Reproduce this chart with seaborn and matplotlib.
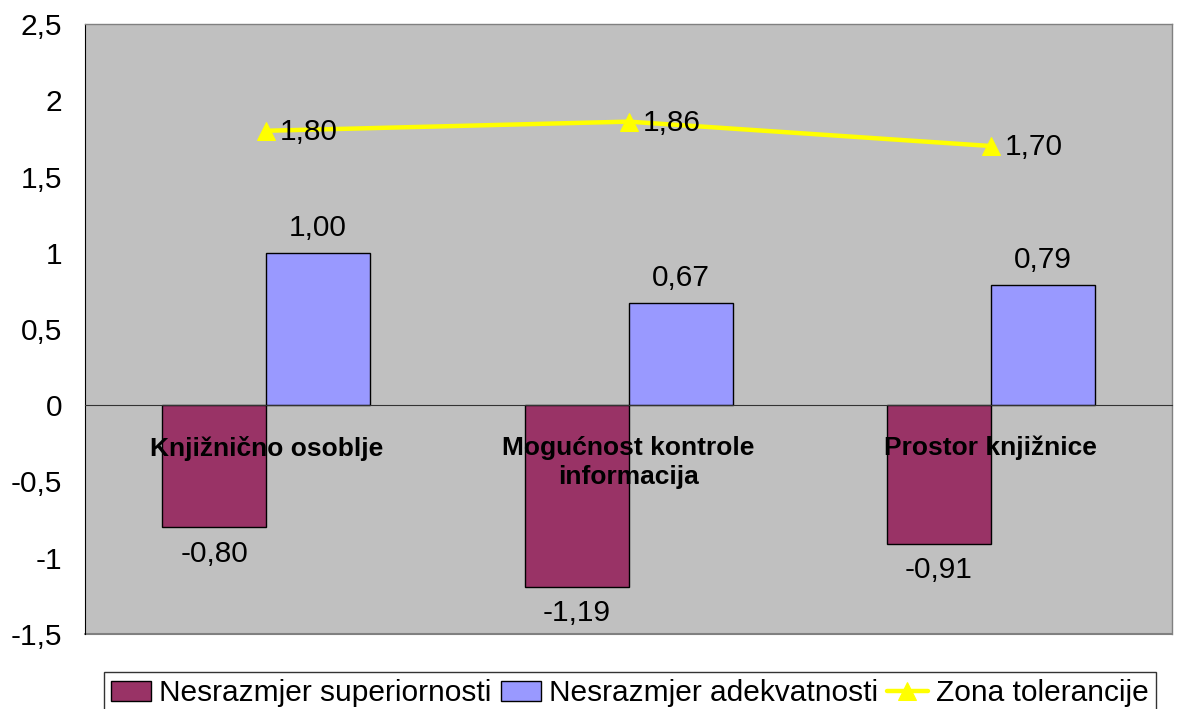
import matplotlib
matplotlib.use("Agg")
import matplotlib.pyplot as plt
import seaborn as sns
import pandas as pd

categories = ["Knjižnično osoblje", "Mogućnost kontrole\ninformacija", "Prostor knjižnice"]
superiornost = [-0.80, -1.19, -0.91]
adekvatnost = [1.00, 0.67, 0.79]
zona = [1.80, 1.86, 1.70]
series_names = ["Nesrazmjer superiornosti", "Nesrazmjer adekvatnosti", "Zona tolerancije"]
yticks = [-1.5, -1, -0.5, 0, 0.5, 1, 1.5, 2, 2.5]

def fmt(v):
    return f"{v:.2f}".replace(".", ",")

sns.set_style("white", {"text.color": "black", "ytick.color": "black",
                        "xtick.color": "black", "axes.labelcolor": "black"})
plt.rcParams["font.family"] = ["Liberation Sans", "DejaVu Sans"]

df = pd.DataFrame({
    "cat": categories * 2,
    "val": superiornost + adekvatnost,
    "serija": [series_names[0]] * 3 + [series_names[1]] * 3,
})

fig = plt.figure(figsize=(11.77, 7.09), dpi=100)
ax = fig.add_axes([0.0722, 0.1058, 0.9236, 0.8603])
ax.set_facecolor("#C0C0C0")

sns.barplot(data=df, x="cat", y="val", hue="serija", hue_order=series_names[:2],
            palette=["#993366", "#9999FF"], width=0.574, edgecolor="black",
            linewidth=1, ax=ax, errorbar=None, saturation=1)
sns.lineplot(x=[0, 1, 2], y=zona, color="#FFFF00", linewidth=3.2, marker="^",
             markersize=13, markeredgecolor="#FFFF00", ax=ax, label=series_names[2])

ax.set_xlim(-0.5, 2.5)
ax.set_ylim(-1.5, 2.5)
ax.set_yticks(yticks)
ax.set_yticklabels([f"{t:g}".replace(".", ",") for t in yticks], fontsize=21.5,
                   color="black")
ax.set_xticks([-0.5, 0.5, 1.5, 2.5])
ax.set_xticklabels([])
ax.set_xlabel("")
ax.set_ylabel("")
ax.tick_params(axis="y", direction="inout", length=13, width=1, color="black", pad=10)
ax.tick_params(axis="x", direction="inout", length=12, width=1, color="#333333")

for s in ["top", "right"]:
    ax.spines[s].set_color("#808080")
    ax.spines[s].set_linewidth(1)
ax.spines["left"].set_color("black")
ax.spines["bottom"].set_position(("data", 0))
ax.spines["bottom"].set_color("#333333")
ax.axhline(-1.5, color="#808080", linewidth=1.5, clip_on=False)

# value labels
for i, v in enumerate(adekvatnost):
    ax.annotate(fmt(v), (i + 0.1435, v), xytext=(0, 18), textcoords="offset points",
                ha="center", va="center", fontsize=21.5, color="black")
for i, v in enumerate(superiornost):
    ax.annotate(fmt(v), (i - 0.1435, v), xytext=(0, -19), textcoords="offset points",
                ha="center", va="center", fontsize=21.5, color="black")
for i, v in enumerate(zona):
    ax.annotate(fmt(v), (i, v), xytext=(10, -1), textcoords="offset points",
                ha="left", va="center", fontsize=21.5, color="black")

# category labels inside the plot
for i, c in enumerate(categories):
    ax.text(i, -0.2, c, ha="center", va="top", fontsize=19, fontweight="bold",
            linespacing=1.3, color="black")

handles, labels = ax.get_legend_handles_labels()
ax.get_legend().remove()
leg = fig.legend(handles, labels, loc="center", bbox_to_anchor=(0.535, 0.022), ncol=3,
                 fontsize=21.5, frameon=True, fancybox=False, edgecolor="black",
                 handlelength=1.35, handleheight=0.64, handletextpad=0.27,
                 columnspacing=0.3, borderpad=0.25, borderaxespad=0,
                 labelcolor="black")
leg.get_frame().set_linewidth(1)

fig.savefig("out.png", dpi=100, facecolor="white")
